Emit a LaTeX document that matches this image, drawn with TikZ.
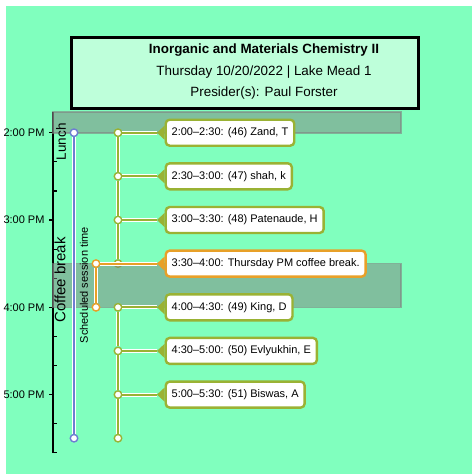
\documentclass[tikz,border=0pt]{standalone}
\usepackage{fontspec}
\setmainfont{Liberation Sans}
\usetikzlibrary{positioning,calc}
\definecolor{bg_mint}{RGB}{128,255,190}
\definecolor{head_mint}{RGB}{190,255,218}
\definecolor{talk_green}{RGB}{154,178,52}
\definecolor{break_orange}{RGB}{232,160,40}
\definecolor{span_blue}{RGB}{110,125,210}

\begin{document}
\begin{tikzpicture}[
    x=1pt, y=-1pt,
    callout/.style={rectangle, draw=#1, line width=2.4pt, rounded corners=4pt, fill=white, inner xsep=6pt, minimum height=26pt, anchor=west, font=\fontsize{11}{13}\selectfont},
    tdot/.style={circle, draw=#1, fill=white, line width=1.4pt, inner sep=0pt, minimum size=7.5pt},
    link/.style={draw=white, double=#1, double distance=1.8pt, line width=1pt},
    band/.style={fill=gray, fill opacity=0.5, draw=gray, draw opacity=0.6, line width=1.5pt},
    timelabel/.style={anchor=east, font=\fontsize{11}{13}\selectfont}
]
\useasboundingbox (0,0) rectangle (472,474);
\fill[bg_mint] (6,6) rectangle (472,474);

\node[draw, line width=3pt, fill=head_mint, minimum width=347pt, minimum height=70.5pt] (head) at (244.5,72.75) {};
\node[font=\fontsize{13.4}{16}\selectfont\bfseries] (title) at (264,50) {Inorganic and Materials Chemistry II};
\node[font=\fontsize{13.4}{16}\selectfont] (date) at (264,71.7) {Thursday 10/20/2022 | Lake Mead 1};
\node[font=\fontsize{13.4}{16}\selectfont] (chair) at (264,93.3) {Presider(s): Paul Forster};

\draw[line width=1.2pt] (53,112) -- (53,452.8);
\foreach \y/\t in {132.7/2:00 PM, 220.0/3:00 PM, 307.3/4:00 PM, 394.6/5:00 PM} {
    \draw[line width=1.2pt] (53,\y) -- (49,\y);
    \node[timelabel] at (48,\y) {\t};
}
\foreach \y in {161.8,190.9,249.1,278.2,336.4,365.5,423.7,452.8}
    \draw[line width=1.2pt] (53,\y) -- (57,\y);

\draw[band] (53,112) rectangle (401,133);

\foreach \n/\y in {1/132.7,2/176.3,3/220.0,4/263.6}
    \node[tdot=talk_green] (g\n) at (118,\y) {};
\draw[link=talk_green] (g1) -- (g2) -- (g3) -- (g4);

\draw[band] (53,263.6) rectangle (401,307.3);

\foreach \n/\y in {5/307.3,6/350.9,7/394.6,8/438.2}
    \node[tdot=talk_green] (g\n) at (118,\y) {};
\draw[link=talk_green] (g5) -- (g6) -- (g7) -- (g8);

\node[tdot=span_blue] (b1) at (74,132.7) {};
\node[tdot=span_blue] (b2) at (74,438.2) {};
\draw[link=span_blue] (b1) -- (b2);

\node[tdot=break_orange] (o1) at (96,263.6) {};
\node[tdot=break_orange] (o2) at (96,307.3) {};
\draw[link=break_orange] (o1) -- (o2);

\foreach \n/\y/\c/\txt in {1/132.7/talk_green/{2:00–2:30: (46) Zand, T},
                           2/176.3/talk_green/{2:30–3:00: (47) shah, k},
                           3/220.0/talk_green/{3:00–3:30: (48) Patenaude, H},
                           4/263.6/break_orange/{3:30–4:00: Thursday PM coffee break.},
                           5/307.3/talk_green/{4:00–4:30: (49) King, D},
                           6/350.9/talk_green/{4:30–5:00: (50) Evlyukhin, E},
                           7/394.6/talk_green/{5:00–5:30: (51) Biswas, A}} {
    \node[callout=\c] (t\n) at (164.5,\y) {\txt};
    \coordinate (c\n) at ([xshift=-7.5pt]t\n.west);
    \fill[\c] (c\n) -- ([yshift=-7pt]t\n.west) -- ([yshift=7pt]t\n.west) -- cycle;
}
\foreach \n in {1,2,3,5,6,7}
    \draw[link=talk_green] (g\n) -- (c\n);
\draw[link=break_orange] (o1) -- (c4);

\node[rotate=90, font=\fontsize{13.5}{16}\selectfont] (lunch) at (61,141.7) {Lunch};
\node[rotate=90, font=\fontsize{15}{17}\selectfont] (coffee) at (60,280) {Coffee break};
\node[rotate=90, font=\fontsize{11}{13}\selectfont] (sched) at (84,285) {Scheduled session time};
\end{tikzpicture}
\end{document}
